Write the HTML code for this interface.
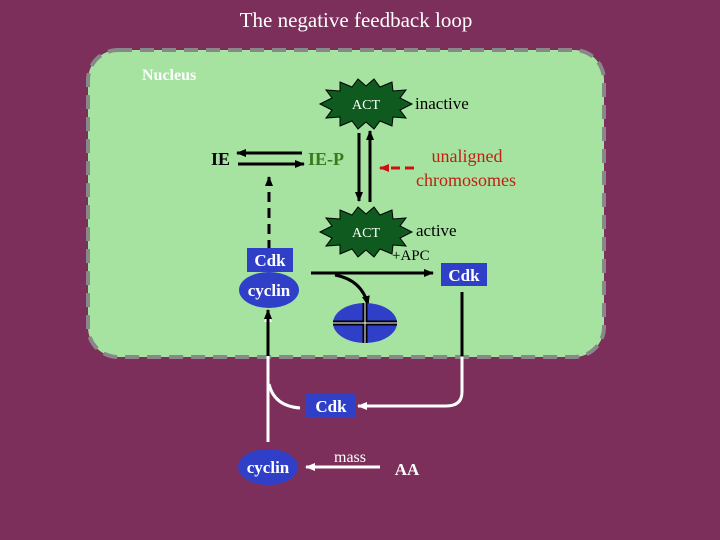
<!DOCTYPE html>
<html><head><style>
body{margin:0;background:#7d2f5b;}
svg{display:block;font-family:"Liberation Serif",serif;}
</style></head><body>
<svg width="720" height="540" viewBox="0 0 720 540">
<defs>
<marker id="ab" markerWidth="10" markerHeight="8" refX="9" refY="4" orient="auto" markerUnits="userSpaceOnUse"><path d="M0,0 L10,4 L0,8 z" fill="#000"/></marker>
<marker id="ar" markerWidth="10" markerHeight="8" refX="9" refY="4" orient="auto" markerUnits="userSpaceOnUse"><path d="M0,0 L10,4 L0,8 z" fill="#d01010"/></marker>
<marker id="aw" markerWidth="10" markerHeight="8" refX="9" refY="4" orient="auto" markerUnits="userSpaceOnUse"><path d="M0,0 L10,4 L0,8 z" fill="#fff"/></marker>
</defs>
<rect width="720" height="540" fill="#7d2f5b"/>
<text x="356" y="27" font-size="21" fill="#fff" text-anchor="middle">The negative feedback loop</text>
<rect x="88" y="50" width="516" height="307" rx="30" fill="#a6e3a1" stroke="#888" stroke-width="4" stroke-dasharray="14,8"/>
<text x="142" y="80" font-size="16" font-weight="bold" fill="#fff">Nucleus</text>
<!-- stars -->
<g fill="#0f5a1e" stroke="#000" stroke-width="1">
<polygon points="320,104 332,98 326,90 340,91 340,82 352,87 358,79 366,86 374,79 380,87 392,82 393,91 406,90 400,98 412,104 400,110 406,118 393,117 392,126 380,121 374,129 366,122 358,129 352,121 340,126 340,117 326,118 332,110"/>
<polygon points="320,232 332,226 326,218 340,219 340,210 352,215 358,207 366,214 374,207 380,215 392,210 393,219 406,218 400,226 412,232 400,238 406,246 393,245 392,254 380,249 374,257 366,250 358,257 352,249 340,254 340,245 326,246 332,238"/>
</g>
<text x="366" y="109" font-size="14" fill="#fff" text-anchor="middle">ACT</text>
<text x="366" y="237" font-size="14" fill="#fff" text-anchor="middle">ACT</text>
<text x="415" y="109" font-size="17" fill="#000">inactive</text>
<text x="416" y="236" font-size="17" fill="#000">active</text>
<g stroke="#000" stroke-width="3" fill="none">
<line x1="359" y1="133" x2="359" y2="201" marker-end="url(#ab)"/>
<line x1="370" y1="202" x2="370" y2="131" marker-end="url(#ab)"/>
<line x1="302" y1="153" x2="237" y2="153" marker-end="url(#ab)"/>
<line x1="238" y1="164" x2="304" y2="164" marker-end="url(#ab)"/>
<line x1="269" y1="250" x2="269" y2="177" stroke-dasharray="10,6" marker-end="url(#ab)"/>
<line x1="311" y1="273" x2="433" y2="273" marker-end="url(#ab)"/>
<path d="M335,275 Q362,280 368,305" marker-end="url(#ab)"/>
<line x1="462" y1="292" x2="462" y2="356"/>
<line x1="268" y1="356" x2="268" y2="352"/>
</g>
<line x1="414" y1="168" x2="380" y2="168" stroke="#d01010" stroke-width="3" stroke-dasharray="9,5" marker-end="url(#ar)"/>
<text x="211" y="165" font-size="18" font-weight="bold" fill="#000">IE</text>
<text x="308" y="165" font-size="18" font-weight="bold" fill="#3a7a1a">IE-P</text>
<text x="467" y="162" font-size="18" fill="#c02010" text-anchor="middle">unaligned</text>
<text x="466" y="186" font-size="18" fill="#c02010" text-anchor="middle">chromosomes</text>
<text x="392" y="260" font-size="15" fill="#000">+APC</text>
<rect x="247" y="248" width="46" height="24" fill="#2f3fc8"/>
<text x="270" y="266" font-size="17" font-weight="bold" fill="#fff" text-anchor="middle">Cdk</text>
<ellipse cx="269" cy="290" rx="30" ry="18" fill="#2f3fc8"/>
<text x="269" y="296" font-size="17" font-weight="bold" fill="#fff" text-anchor="middle">cyclin</text>
<rect x="441" y="263" width="46" height="23" fill="#2f3fc8"/>
<text x="464" y="281" font-size="17" font-weight="bold" fill="#fff" text-anchor="middle">Cdk</text>
<ellipse cx="365" cy="323" rx="32" ry="20" fill="#2f3fc8"/>
<g stroke="#000" stroke-width="5"><line x1="365" y1="303" x2="365" y2="343"/><line x1="333" y1="323" x2="397" y2="323"/></g>
<g stroke="#fff" stroke-width="1"><line x1="365" y1="303" x2="365" y2="343"/><line x1="333" y1="323" x2="397" y2="323"/></g>
<!-- white paths outside -->
<g stroke="#fff" stroke-width="3" fill="none">
<path d="M462,357 L462,392 Q462,406 446,406 L358,406" marker-end="url(#aw)"/>
<line x1="268" y1="442" x2="268" y2="313" marker-end="url(#aw)"/>
<path d="M269,384 Q274,406 300,408"/>
<line x1="380" y1="467" x2="306" y2="467" marker-end="url(#aw)"/>
</g>
<line x1="268" y1="356" x2="268" y2="310" stroke="#000" stroke-width="3" marker-end="url(#ab)"/>
<rect x="306" y="394" width="49" height="24" fill="#2f3fc8"/>
<text x="331" y="412" font-size="17" font-weight="bold" fill="#fff" text-anchor="middle">Cdk</text>
<ellipse cx="268" cy="467" rx="30" ry="18" fill="#2f3fc8"/>
<text x="268" y="473" font-size="17" font-weight="bold" fill="#fff" text-anchor="middle">cyclin</text>
<text x="350" y="462" font-size="16" fill="#fff" text-anchor="middle">mass</text>
<text x="407" y="475" font-size="17" font-weight="bold" fill="#fff" text-anchor="middle">AA</text>
</svg>
</body></html>
